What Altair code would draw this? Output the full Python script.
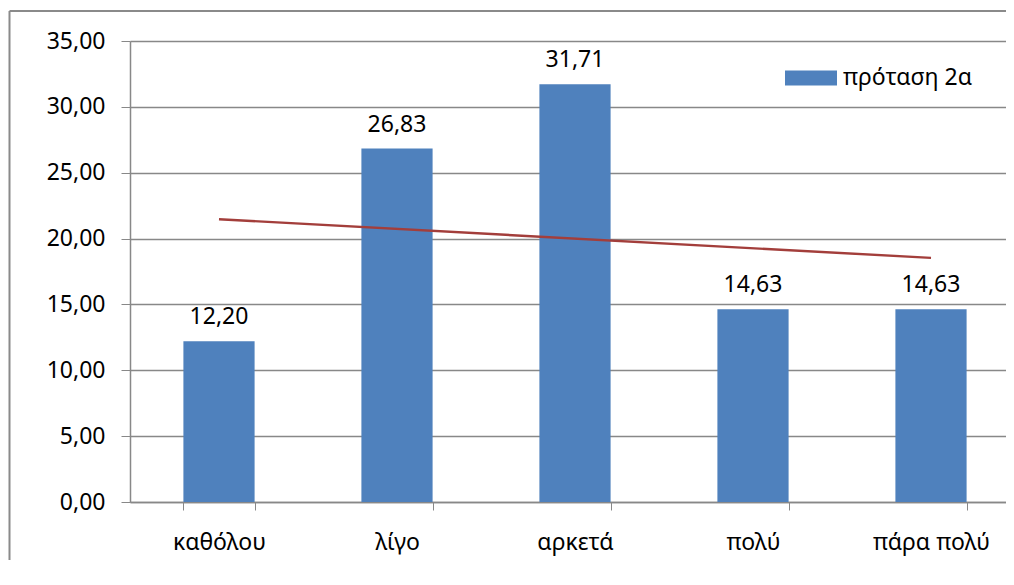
import altair as alt
import pandas as pd

categories = ["καθόλου", "λίγο", "αρκετά", "πολύ", "πάρα πολύ"]
values = [12.20, 26.83, 31.71, 14.63, 14.63]
series_name = "πρόταση 2α"
y_ticks = [0, 5, 10, 15, 20, 25, 30, 35]

df = pd.DataFrame({"cat": categories, "val": values, "series": series_name})

FONT = "Noto Sans"
FS = 23
W = 890
H = 461
VIEW_W = 876

base = alt.Chart(df)

band_scale = alt.Scale(paddingInner=0.6, paddingOuter=0.3, range=[0, W])

x_enc = alt.X("cat:N", sort=categories, title=None,
              scale=band_scale,
              axis=alt.Axis(labelAngle=0, labelFontSize=FS, labelFont=FONT, labelColor="#000000",
                            labelPadding=21, tickBand="extent", tickSize=8, tickColor="#888888",
                            domainColor="#888888", domainWidth=1.5, grid=False))
y_enc = alt.Y("val:Q", title=None,
              scale=alt.Scale(domain=[0, 35], nice=False),
              axis=alt.Axis(values=y_ticks, labelExpr="replace(format(datum.value, '.2f'), '.', ',')",
                            labelFontSize=FS, labelFont=FONT, labelColor="#000000", labelPadding=16,
                            tickSize=9, tickColor="#888888", domainColor="#888888", domainWidth=1.5,
                            grid=True, gridColor="#888888", gridWidth=1.5))

bars = base.mark_bar().encode(
    x=x_enc,
    y=y_enc,
    color=alt.Color("series:N", title=None,
                    scale=alt.Scale(range=["#4F81BD"]),
                    legend=alt.Legend(orient="none", legendX=655, legendY=11,
                                      symbolType="M-1,-0.29H1V0.29H-1Z", symbolSize=2704,
                                      symbolStrokeWidth=0, labelFontSize=FS, labelFont=FONT,
                                      labelColor="#000000", labelOffset=6)),
)

labels = base.transform_calculate(
    lbl="replace(format(datum.val, '.2f'), '.', ',')"
).mark_text(baseline="alphabetic", dy=-17, fontSize=FS, font=FONT, color="#000000").encode(
    x=alt.X("cat:N", sort=categories, scale=band_scale, axis=None),
    y=alt.Y("val:Q"),
    text="lbl:N",
)

trend = base.transform_window(
    idx="row_number()"
).transform_regression("idx", "val", method="linear").mark_line(
    color="#A33E3B", strokeWidth=2.4
).encode(
    x=alt.X("idx:Q", scale=alt.Scale(domain=[0.5, 5.5], range=[0, W]), axis=None),
    y=alt.Y("val:Q"),
)

frame = pd.DataFrame({"k": [0]})
border_left = alt.Chart(frame).mark_rule(color="#8a8a8a", strokeWidth=2).encode(
    x=alt.value(-120.5), y=alt.value(-30), y2=alt.value(H + 200),
)
border_top = alt.Chart(frame).mark_rule(color="#8a8a8a", strokeWidth=2).encode(
    y=alt.value(-30), x=alt.value(-120.5), x2=alt.value(W + 100),
)

chart = alt.layer(bars, labels, trend, border_left, border_top).resolve_scale(x="independent").properties(
    width=VIEW_W, height=H,
    autosize=alt.AutoSizeParams(type="none"),
    padding={"left": 122, "top": 33, "right": 0, "bottom": 58},
    background="#ffffff",
).configure_view(stroke=None)

chart.save("out.html", embed_options={"renderer": "svg", "actions": False})
